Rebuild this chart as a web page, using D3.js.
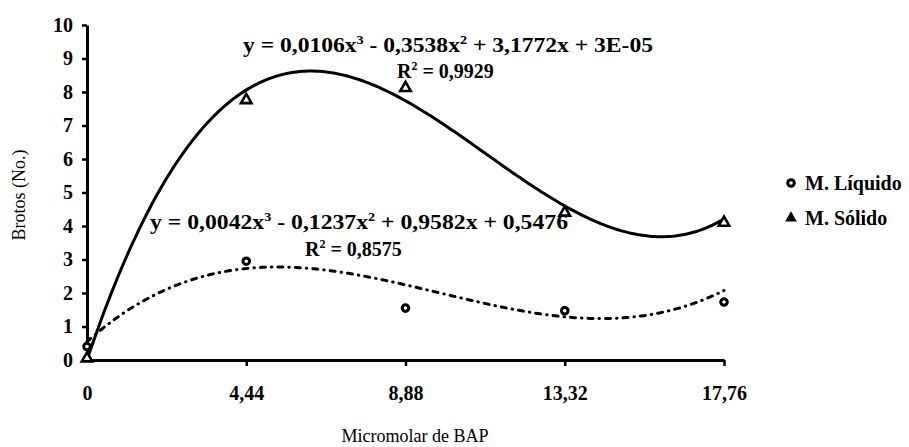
<!DOCTYPE html>
<html><head><meta charset="utf-8">
<script src="https://cdn.jsdelivr.net/npm/d3@7"></script>
<style>
html,body{margin:0;padding:0;background:#fff;}
svg{display:block;}
text{font-family:"Liberation Serif","Times New Roman",serif;fill:#000;}
</style></head>
<body>
<svg id="chart" width="909" height="447"></svg>
<script>
// ---- data ----
const xValues = [0, 4.44, 8.88, 13.32, 17.76];
const xTickLabels = ["0", "4,44", "8,88", "13,32", "17,76"];
const yTicks = [0, 1, 2, 3, 4, 5, 6, 7, 8, 9, 10];
const liquidoValues = [0.4, 2.95, 1.55, 1.47, 1.73];
const solidoValues = [0.05, 7.76, 8.12, 4.4, 4.1];
// trendline coefficients (c0 + c1 x + c2 x^2 + c3 x^3), as printed on the chart
const liquidoCoef = [0.5476, 0.9582, -0.1237, 0.0042];
const solidoCoef = [0.00003, 3.1772, -0.3538, 0.0106];
const seriesNames = ["M. Líquido", "M. Sólido"];
const eqSolido = ["y = 0,0106x", "3", " - 0,3538x", "2", " + 3,1772x + 3E-05"];
const r2Solido = "0,9929";
const eqLiquido = ["y = 0,0042x", "3", " - 0,1237x", "2", " + 0,9582x + 0,5476"];
const r2Liquido = "0,8575";

const svg = d3.select("#chart");
const x = d3.scaleLinear().domain([0, 17.76]).range([87, 724]);
const y = d3.scaleLinear().domain([0, 10]).range([360, 25]);

// axes
const gy = svg.append("g").attr("transform", `translate(${x(0)},0)`)
  .call(d3.axisLeft(y).tickValues(yTicks).tickFormat(d3.format("d")).tickSize(5).tickSizeOuter(0).tickPadding(9));
const gx = svg.append("g").attr("transform", `translate(0,${y(0)})`)
  .call(d3.axisBottom(x).tickValues(xValues).tickFormat((d, i) => xTickLabels[i]).tickSize(6).tickSizeOuter(0).tickPadding(20));
[gx, gy].forEach(g => {
  g.select(".domain").attr("stroke", "#000").attr("stroke-width", 3);
  g.selectAll(".tick line").attr("stroke", "#000").attr("stroke-width", 2.5);
  g.selectAll(".tick text").attr("font-size", 20).attr("font-weight", "bold")
    .attr("font-family", "Liberation Serif").attr("fill", "#000");
});
gx.selectAll(".tick").filter(d => d === 0).select("line").remove();

// axis titles
svg.append("text").attr("x", 415).attr("y", 442).attr("text-anchor", "middle")
  .attr("font-size", 18).text("Micromolar de BAP");
svg.append("text").attr("transform", "translate(25,195) rotate(-90)").attr("text-anchor", "middle")
  .attr("font-size", 18).text("Brotos (No.)");

// trendlines
const poly = c => v => c[0] + c[1] * v + c[2] * v * v + c[3] * v * v * v;
const xs = d3.range(0, 17.76 + 1e-9, 0.08);
const line = d3.line().x(d => x(d[0])).y(d => y(d[1])).curve(d3.curveLinear);
svg.append("path").datum(xs.map(v => [v, poly(solidoCoef)(v)]))
  .attr("d", line).attr("fill", "none").attr("stroke", "#000").attr("stroke-width", 3);
svg.append("path").datum(xs.map(v => [v, poly(liquidoCoef)(v)]))
  .attr("d", line).attr("fill", "none").attr("stroke", "#000").attr("stroke-width", 3)
  .attr("stroke-dasharray", "5 6 0.5 6").attr("stroke-linecap", "round");

// markers
const tri = d3.symbol().type(d3.symbolTriangle).size(48);
svg.selectAll(".tri").data(xValues).join("path")
  .attr("transform", (d, i) => `translate(${x(d)},${y(solidoValues[i])})`)
  .attr("d", tri).attr("fill", "#fff").attr("stroke", "#000").attr("stroke-width", 2.6)
  .attr("stroke-linejoin", "miter");
svg.selectAll(".circ").data(xValues).join("circle")
  .attr("cx", d => x(d)).attr("cy", (d, i) => y(liquidoValues[i])).attr("r", 3.3)
  .attr("fill", "#fff").attr("stroke", "#000").attr("stroke-width", 3);

// equations
function eq(parts, xpos, ypos, len) {
  const t = svg.append("text").attr("x", xpos).attr("y", ypos).attr("font-size", 20).attr("font-weight", "bold");
  parts.forEach((p, i) => {
    if (i % 2 === 1) t.append("tspan").attr("font-size", 12).attr("dy", -8).text(p);
    else t.append("tspan").attr("dy", i === 0 ? 0 : 8).text(p);
  });
  if (len) t.attr("textLength", len).attr("lengthAdjust", "spacingAndGlyphs");
  return t;
}
function r2(val, xpos, ypos) {
  const t = svg.append("text").attr("x", xpos).attr("y", ypos).attr("font-size", 20).attr("font-weight", "bold");
  t.append("tspan").text("R");
  t.append("tspan").attr("font-size", 12).attr("dy", -8).text("2");
  t.append("tspan").attr("dy", 8).text(" = " + val);
}
eq(eqSolido, 243, 52, 410);
r2(r2Solido, 397, 78);
eq(eqLiquido, 150, 229, 418);
r2(r2Liquido, 305, 256);

// legend
const lg = svg.append("g");
lg.append("circle").attr("cx", 791).attr("cy", 183).attr("r", 3.3)
  .attr("fill", "#fff").attr("stroke", "#000").attr("stroke-width", 3);
lg.append("text").attr("x", 805).attr("y", 190).attr("font-size", 20).attr("font-weight", "bold").text(seriesNames[0]);
lg.append("path").attr("transform", "translate(791,218)").attr("d", d3.symbol().type(d3.symbolTriangle).size(60)).attr("fill", "#000");
lg.append("text").attr("x", 805).attr("y", 225).attr("font-size", 20).attr("font-weight", "bold").text(seriesNames[1]);
</script>
</body></html>
